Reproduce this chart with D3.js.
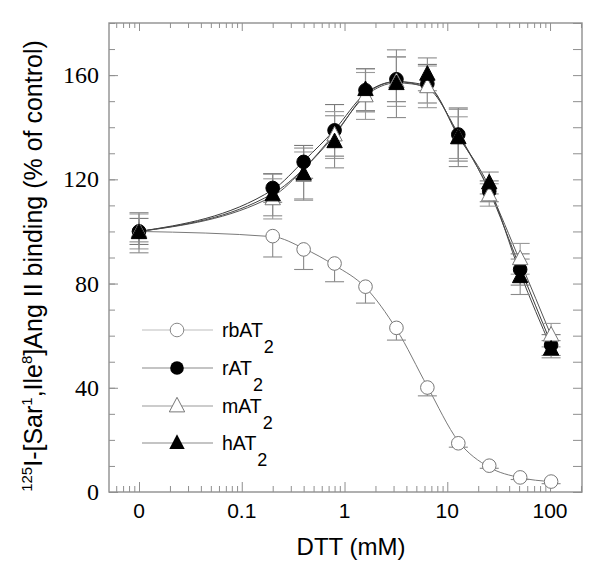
<!DOCTYPE html>
<html><head><meta charset="utf-8">
<script src="https://cdn.jsdelivr.net/npm/d3@7"></script>
<style>body{margin:0;background:#fff}</style>
</head><body><svg id="c" width="592" height="563"></svg>
<script>
// ---- data ----
const dtt = [0, 0.2, 0.4, 0.8, 1.6, 3.2, 6.4, 12.8, 25.6, 51.2, 102.4];
const rbAT2 = [100, 98.2, 93.1, 87.7, 78.8, 63.0, 40.1, 18.7, 10.1, 5.6, 4.0];
const rbAT2Err = [4, 8, 7.7, 7, 6.3, 4.7, 3.2, 1.5, 1, 0.8, 0.8];
const rAT2 = [100, 116.7, 126.7, 138.8, 154.2, 158.4, 156.7, 137.2, 115.4, 85.4, 56.4];
const rAT2Err = [5, 5.5, 6.3, 9.9, 8.3, 8.6, 7.4, 10.2, 4, 6, 4];
const mAT2 = [100, 112.5, 121.5, 137, 152, 157.5, 155.5, 136, 114, 89.5, 60.2];
const mAT2Err = [6.7, 7.7, 9, 9, 9, 9.5, 8, 8, 4.3, 5.9, 4.5];
const hAT2 = [99.5, 114, 122, 134.4, 154.4, 156.7, 160.3, 135.9, 118.6, 82.6, 54.8];
const hAT2Err = [7.7, 8, 10, 10, 8, 13, 6.3, 11, 4.2, 6.8, 3.3];
// fitted curves (read at the same concentrations)
const rbFit = [100, 98, 93.5, 87, 78.5, 62.5, 40.5, 19.5, 9.5, 5.5, 4];
const rFit = [100, 116, 127, 139, 153, 157.5, 155, 137.5, 115.5, 86, 57];
const mFit = [100, 113.5, 124, 137.5, 152, 157, 155.5, 137, 116, 88.5, 60];
const hFit = [100, 114.5, 124, 137, 152.5, 157.5, 156, 136.5, 117, 84, 55.5];
const seriesNames = ["rbAT", "rAT", "mAT", "hAT"];
const xTickValues = [0.01, 0.1, 1, 10, 100];
const xTickLabels = ["0", "0.1", "1", "10", "100"];
const yTickValues = [0, 40, 80, 120, 160];
const zeroPlotAt = 0.01;

// ---- layout ----
const svg = d3.select("#c");
const L = 109, R = 582, T = 23, B = 492;
const x = d3.scaleLog().domain([Math.pow(10, -2.292), Math.pow(10, 2.311)]).range([L, R]);
const y = d3.scaleLinear().domain([0, 180]).range([B, T]);
const xp = v => x(v === 0 ? zeroPlotAt : v);
const axisCol = "#8f8f8f";

// minor/major tick values
const xMinor = [];
for (let e = -3; e <= 2; e++) for (let k = 2; k <= 9; k++) {
  const v = k * Math.pow(10, e);
  if (v > x.domain()[0] && v < x.domain()[1]) xMinor.push(v);
}
const yMinor = d3.range(0, 181, 10);

function styleAxis(g) {
  g.select(".domain").remove();
  g.selectAll("line").attr("stroke", axisCol).attr("stroke-width", 1);
}
// bottom
svg.append("g").attr("transform", `translate(0,${B})`)
  .call(d3.axisBottom(x).tickValues(xMinor).tickSize(-6).tickFormat("")).call(styleAxis);
svg.append("g").attr("transform", `translate(0,${B})`)
  .call(d3.axisBottom(x).tickValues(xTickValues).tickSize(-10).tickFormat("")).call(styleAxis);
// top
svg.append("g").attr("transform", `translate(0,${T})`)
  .call(d3.axisTop(x).tickValues(xMinor).tickSize(-5).tickFormat("")).call(styleAxis);
svg.append("g").attr("transform", `translate(0,${T})`)
  .call(d3.axisTop(x).tickValues(xTickValues).tickSize(-8).tickFormat("")).call(styleAxis);
// left
svg.append("g").attr("transform", `translate(${L},0)`)
  .call(d3.axisLeft(y).tickValues(yMinor).tickSize(-6).tickFormat("")).call(styleAxis);
svg.append("g").attr("transform", `translate(${L},0)`)
  .call(d3.axisLeft(y).tickValues(yTickValues).tickSize(-9).tickFormat("")).call(styleAxis);
// right
svg.append("g").attr("transform", `translate(${R},0)`)
  .call(d3.axisRight(y).tickValues(yMinor).tickSize(-9).tickFormat("")).call(styleAxis);

// frame
svg.append("rect").attr("x", L).attr("y", T).attr("width", R - L).attr("height", B - T)
  .attr("fill", "none").attr("stroke", axisCol).attr("stroke-width", 1.4);

// tick labels
svg.append("g").selectAll("text").data(xTickValues).join("text")
  .attr("x", d => x(d)).attr("y", 518).attr("text-anchor", "middle")
  .attr("font-family", "Liberation Sans, Arial, sans-serif").attr("font-size", 21)
  .text((d, i) => xTickLabels[i]);
svg.append("g").selectAll("text").data(yTickValues).join("text")
  .attr("x", 99).attr("y", d => y(d)).attr("dy", "0.34em").attr("text-anchor", "end")
  .attr("font-family", "Liberation Serif, Times New Roman, serif").attr("font-size", 24)
  .text(d => d);

// axis titles
svg.append("text").attr("x", 351).attr("y", 555).attr("text-anchor", "middle")
  .attr("font-family", "Liberation Sans, Arial, sans-serif").attr("font-size", 24)
  .text("DTT (mM)");
const yl = svg.append("text").attr("transform", "translate(42,266) rotate(-90)")
  .attr("text-anchor", "middle")
  .attr("font-family", "Liberation Sans, Arial, sans-serif").attr("font-size", 25);
yl.append("tspan").attr("font-size", 15).attr("dy", -10).text("125");
yl.append("tspan").attr("dy", 10).text("I-[Sar");
yl.append("tspan").attr("font-size", 15).attr("dy", -10).text("1");
yl.append("tspan").attr("dy", 10).text(",Ile");
yl.append("tspan").attr("font-size", 15).attr("dy", -10).text("8");
yl.append("tspan").attr("dy", 10).text("]Ang II binding (% of control)");

// ---- curves ----
const line = d3.line().x((d, i) => xp(dtt[i])).y(d => y(d)).curve(d3.curveMonotoneX);
const fits = [[rbFit, "#7a7a7a"], [rFit, "#3a3a3a"], [mFit, "#555"], [hFit, "#444"]];
fits.forEach(([f, c]) => svg.append("path").attr("d", line(f)).attr("fill", "none")
  .attr("stroke", c).attr("stroke-width", 1));

// ---- error bars ----
const cap = 9.5;
function errBars(vals, errs, upper, col) {
  const g = svg.append("g").attr("stroke", col).attr("stroke-width", 1.1);
  vals.forEach((v, i) => {
    const cx = xp(dtt[i]);
    const lo = y(v - errs[i]), hi = upper ? y(v + errs[i]) : y(v);
    g.append("line").attr("x1", cx).attr("x2", cx).attr("y1", lo).attr("y2", hi);
    g.append("line").attr("x1", cx - cap).attr("x2", cx + cap).attr("y1", lo).attr("y2", lo);
    if (upper) g.append("line").attr("x1", cx - cap).attr("x2", cx + cap).attr("y1", hi).attr("y2", hi);
  });
}
errBars(rbAT2, rbAT2Err, false, "#8a8a8a");
errBars(rAT2, rAT2Err, true, "#7a7a7a");
errBars(mAT2, mAT2Err, true, "#9a9a9a");
errBars(hAT2, hAT2Err, true, "#8a8a8a");

// ---- markers ----
const r = 6.8;
const triPath = (cx, cy, s) => `M${cx},${cy - s * 0.62}L${cx + s * 0.55},${cy + s * 0.42}L${cx - s * 0.55},${cy + s * 0.42}Z`;
function circles(vals, fill, stroke) {
  svg.append("g").selectAll("circle").data(vals).join("circle")
    .attr("cx", (d, i) => xp(dtt[i])).attr("cy", d => y(d)).attr("r", r)
    .attr("fill", fill).attr("stroke", stroke).attr("stroke-width", 1);
}
function triangles(vals, fill, stroke) {
  svg.append("g").selectAll("path").data(vals).join("path")
    .attr("d", (d, i) => triPath(xp(dtt[i]), y(d), 14))
    .attr("fill", fill).attr("stroke", stroke).attr("stroke-width", 1);
}
circles(rbAT2, "#fff", "#777");
circles(rAT2, "#000", "#000");
triangles(mAT2, "#fff", "#777");
triangles(hAT2, "#000", "#000");

// ---- legend ----
const legY = [330, 368, 406, 443];
const legLineCols = ["#bdbdbd", "#8a8a8a", "#9a9a9a", "#8a8a8a"];
legY.forEach((ly, i) => {
  svg.append("line").attr("x1", 142).attr("x2", 213).attr("y1", ly).attr("y2", ly)
    .attr("stroke", legLineCols[i]).attr("stroke-width", 1.2);
  if (i === 0) svg.append("circle").attr("cx", 177).attr("cy", ly).attr("r", r).attr("fill", "#fff").attr("stroke", "#888");
  if (i === 1) svg.append("circle").attr("cx", 177).attr("cy", ly).attr("r", r).attr("fill", "#000");
  if (i === 2) svg.append("path").attr("d", triPath(177, ly, 14)).attr("fill", "#fff").attr("stroke", "#777");
  if (i === 3) svg.append("path").attr("d", triPath(177, ly, 14)).attr("fill", "#000");
  const t = svg.append("text").attr("x", 222).attr("y", ly + 7)
    .attr("font-family", "Liberation Sans, Arial, sans-serif").attr("font-size", 19.5);
  t.append("tspan").text(seriesNames[i]);
  t.append("tspan").attr("font-size", 18).attr("dy", 16).attr("dx", 1).text("2");
});
</script></body></html>
